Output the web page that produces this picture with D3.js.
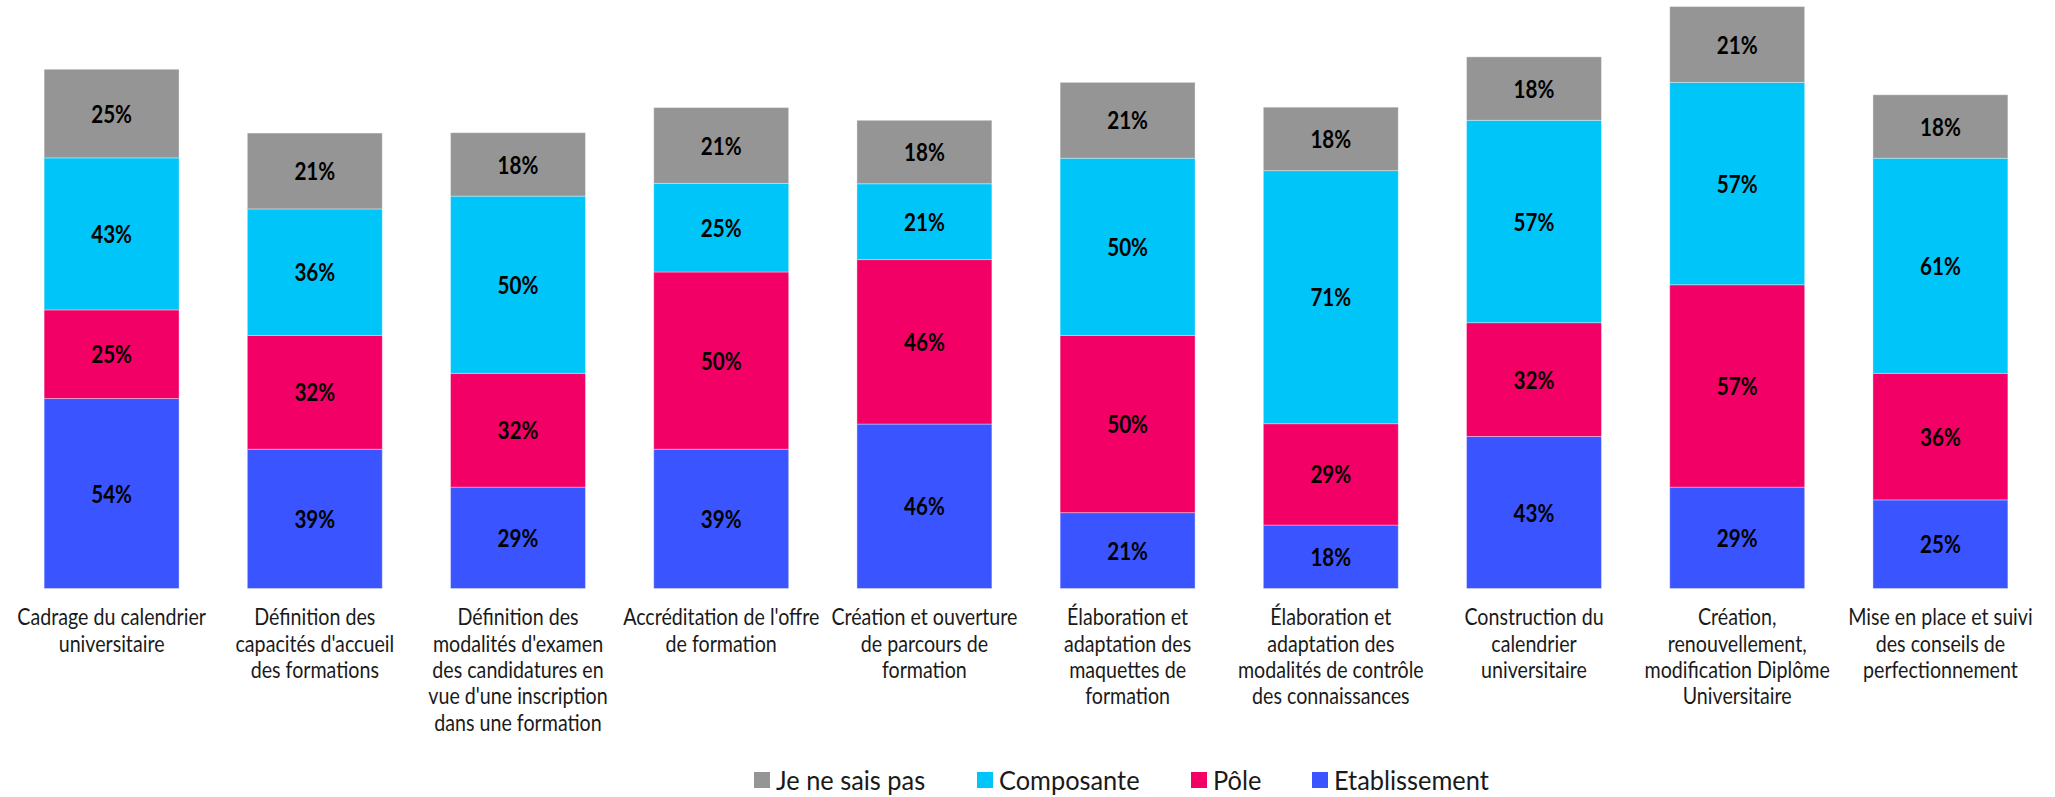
<!DOCTYPE html>
<html><head><meta charset="utf-8">
<script src="https://cdn.jsdelivr.net/npm/d3@7"></script>
<style>
html,body{margin:0;padding:0;background:#fff;}
svg{display:block;}
</style></head>
<body>
<svg id="chart" width="2055" height="797"></svg>
<script>
// ---- data ----
const categories = [
  ["Cadrage du calendrier","universitaire"],
  ["Définition des","capacités d'accueil","des formations"],
  ["Définition des","modalités d'examen","des candidatures en","vue d'une inscription","dans une formation"],
  ["Accréditation de l'offre","de formation"],
  ["Création et ouverture","de parcours de","formation"],
  ["Élaboration et","adaptation des","maquettes de","formation"],
  ["Élaboration et","adaptation des","modalités de contrôle","des connaissances"],
  ["Construction du","calendrier","universitaire"],
  ["Création,","renouvellement,","modification Diplôme","Universitaire"],
  ["Mise en place et suivi","des conseils de","perfectionnement"]
];
const seriesNames = ["Etablissement","Pôle","Composante","Je ne sais pas"];
const etablissement = [53.6, 39.3, 28.6, 39.3, 46.4, 21.4, 17.9, 42.9, 28.6, 25.0];
const pole          = [25.0, 32.1, 32.1, 50.0, 46.4, 50.0, 28.6, 32.1, 57.1, 35.7];
const composante    = [42.9, 35.7, 50.0, 25.0, 21.4, 50.0, 71.4, 57.1, 57.1, 60.7];
const jeNeSaisPas   = [25.0, 21.4, 17.9, 21.4, 17.9, 21.4, 17.9, 17.9, 21.4, 17.9];
const colors = ["#3A55FF", "#F20065", "#00C5F8", "#949594"];
const legendOrder = ["Je ne sais pas","Composante","Pôle","Etablissement"];

// ---- build table ----
const valuesBySeries = [etablissement, pole, composante, jeNeSaisPas];
const rows = categories.map((c, i) => {
  const r = {key: i};
  seriesNames.forEach((s, j) => r[s] = valuesBySeries[j][i]);
  return r;
});
const stack = d3.stack().keys(seriesNames)(rows);

const svg = d3.select("#chart");
const x = d3.scaleBand().domain(d3.range(categories.length)).range([10, 2042]).paddingInner(0.336).paddingOuter(0.168);
const y = d3.scaleLinear().domain([0, 165]).range([588.5, 3.7]);
const color = d3.scaleOrdinal().domain(seriesNames).range(colors);

const FONT = "Lato,'Noto Sans',sans-serif";

const g = svg.append("g");
const layers = g.selectAll("g.layer").data(stack).join("g").attr("class","layer")
  .attr("fill", d => color(d.key));
layers.selectAll("rect").data(d => d).join("rect")
  .attr("x", (d,i) => x(i))
  .attr("width", x.bandwidth())
  .attr("y", d => y(d[1]))
  .attr("height", d => y(d[0]) - y(d[1]))
  .attr("stroke", "rgba(255,255,255,0.35)")
  .attr("stroke-width", 1);

// value labels
layers.selectAll("text").data(d => d).join("text")
  .attr("transform", (d,i) => `translate(${x(i) + x.bandwidth()/2},${(y(d[0]) + y(d[1]))/2}) scale(0.86,1)`)
  .attr("text-anchor","middle")
  .attr("dominant-baseline","central")
  .attr("font-family", FONT)
  .attr("font-weight","bold")
  .attr("font-size", 24)
  .attr("fill","#000")
  .text(d => d3.format(".0f")(d[1]-d[0]) + "%");

// category axis labels
const xAxis = d3.axisBottom(x).tickSize(0).tickFormat("");
const ax = svg.append("g").attr("transform","translate(0,588.5)").call(xAxis);
ax.select(".domain").remove();
ax.selectAll(".tick").each(function(i){
  const t = d3.select(this).append("text")
    .attr("transform","scale(0.855,1)")
    .attr("text-anchor","middle")
    .attr("font-family", FONT)
    .attr("font-size", 23)
    .attr("fill","#1a1a1a");
  categories[i].forEach((line, k) => {
    t.append("tspan").attr("x", 0).attr("y", 37 + k*26.3).text(line);
  });
});

// legend
const legendX = [754, 977, 1191, 1312];
const lg = svg.append("g");
legendOrder.forEach((name, i) => {
  const it = lg.append("g").attr("transform", `translate(${legendX[i]},780)`);
  it.append("rect").attr("x",0).attr("y",-8).attr("width",16).attr("height",16).attr("fill", color(name));
  it.append("text").attr("transform","translate(22,0) scale(0.94,1)").attr("dominant-baseline","central")
    .attr("font-family", FONT).attr("font-size", 27).attr("fill","#1a1a1a").text(name);
});
</script>
</body></html>
